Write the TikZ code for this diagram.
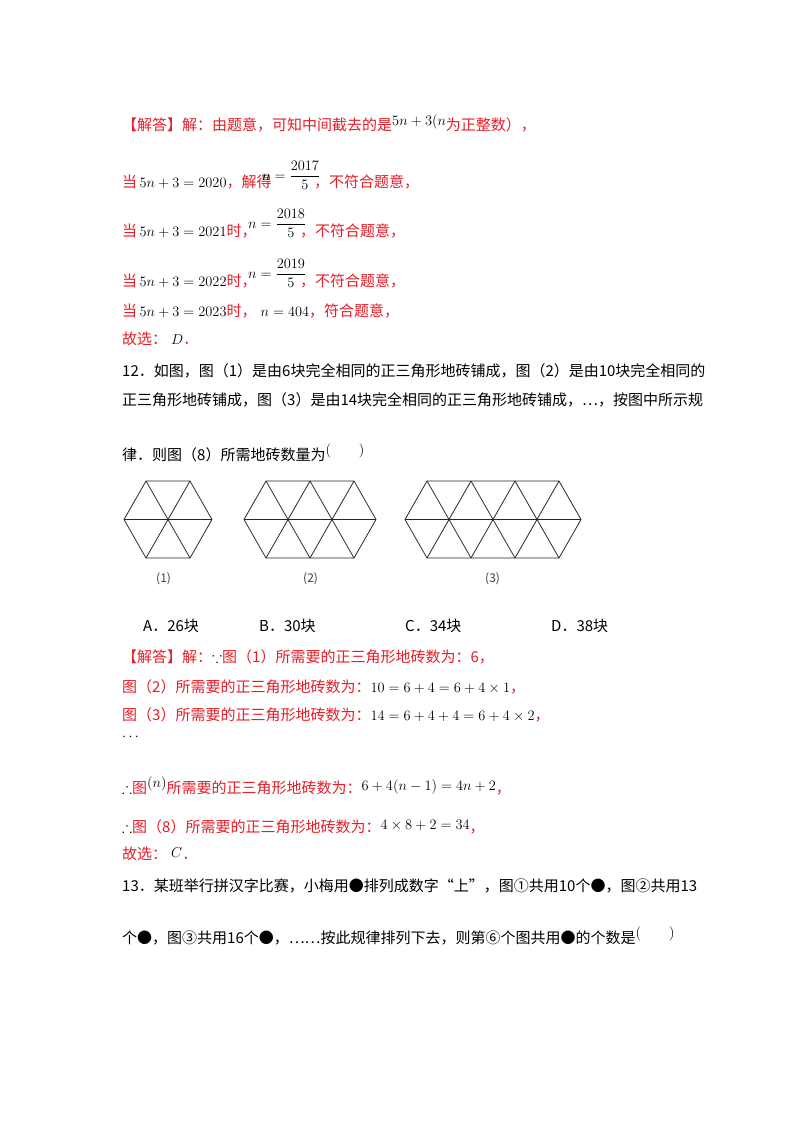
\documentclass[tikz,border=0pt]{standalone}
\usepackage{amsmath,amssymb}
\usepackage{fontspec}
\setmainfont{Noto Sans CJK SC}
\newcommand{\mth}[1]{{\color{black}$#1$}}
\definecolor{ansred}{RGB}{230,30,40}
\begin{document}
\begin{tikzpicture}[x=1pt,y=-1pt,
  txt/.style={anchor=base west,inner sep=0pt,font=\fontsize{15}{18}\selectfont},
  red/.style={txt,text=ansred},
  blk/.style={txt,text=black},
  tile/.style={line width=0.8pt,draw=black!85}]
\useasboundingbox[fill=white] (0,0) rectangle (800,1132);
% solution 11
\node[red] (a1) at (122,130) {【解答】解：由题意，可知中间截去的是\raisebox{5pt}{\mth{5n+3(n}}为正整数），};
\node[red] (a2) at (122,187) {当\mth{\,5n+3=2020}，解得};
\node[blk] (f1) at (262,180) {$n=\dfrac{2017}{5}$};
\node[red] (a2b) at (314,187) {，不符合题意，};
\node[red] (a3) at (122,236) {当\mth{\,5n+3=2021}时，};
\node[blk] (f2) at (248,228) {$n=\dfrac{2018}{5}$};
\node[red] (a3b) at (300,236) {，不符合题意，};
\node[red] (a4) at (122,286) {当\mth{\,5n+3=2022}时，};
\node[blk] (f3) at (248,278) {$n=\dfrac{2019}{5}$};
\node[red] (a4b) at (300,286) {，不符合题意，};
\node[red] (a5) at (122,316) {当\mth{\,5n+3=2023}时，\mth{\;n=404}，符合题意，};
\node[red] (a6) at (122,344) {故选：\mth{\;D}．};
% problem 12
\node[blk] (p1) at (122,376) {12．如图，图（1）是由6块完全相同的正三角形地砖铺成，图（2）是由10块完全相同的};
\node[blk] (p2) at (122,405) {正三角形地砖铺成，图（3）是由14块完全相同的正三角形地砖铺成，…，按图中所示规};
\node[blk] (p3) at (122,460) {律．则图（8）所需地砖数量为\raisebox{6pt}{$($\hspace{28pt}$)$}};
% figures
\foreach \xo/\k in {124/1,244/2,405/3}{
  \pgfmathsetmacro{\rt}{\xo+22+44*\k}
  \pgfmathsetmacro{\rr}{\xo+44*(\k+1)}
  \draw[tile] (\xo,519.5) -- (\xo+22,481) -- (\rt,481) -- (\rr,519.5) -- (\rt,558) -- (\xo+22,558) -- cycle;
  \draw[tile] (\xo,519.5) -- (\rr,519.5);
  \foreach \i in {1,...,\k}{
    \draw[tile] (\xo+22+44*\i-44,481) -- (\xo+22+44*\i,558);
    \draw[tile] (\xo+22+44*\i,481) -- (\xo+22+44*\i-44,558);
  }
}
\node[blk,font=\fontsize{12}{14}\selectfont,text=black!75] (l1) at (156,582) {(1)};
\node[blk,font=\fontsize{12}{14}\selectfont,text=black!75] (l2) at (303,582) {(2)};
\node[blk,font=\fontsize{12}{14}\selectfont,text=black!75] (l3) at (485,582) {(3)};
% options
\node[blk] (oA) at (143,631) {A．26块};
\node[blk] (oB) at (259,631) {B．30块};
\node[blk] (oC) at (405,631) {C．34块};
\node[blk] (oD) at (551,631) {D．38块};
% solution 12
\node[red] (s1) at (122,662) {【解答】解：\mth{\because}图（1）所需要的正三角形地砖数为：6，};
\node[red] (s2) at (122,692) {图（2）所需要的正三角形地砖数为：\mth{10=6+4=6+4\times1}，};
\node[red] (s3) at (122,720) {图（3）所需要的正三角形地砖数为：\mth{14=6+4+4=6+4\times2}，};
\node[blk] (s4) at (122,740) {$\cdots$};
\node[red] (s5) at (122,793) {\mth{\therefore}图\raisebox{6pt}{\mth{(n)}}所需要的正三角形地砖数为：\raisebox{3pt}{\mth{6+4(n-1)=4n+2}}，};
\node[red] (s6) at (122,832) {\mth{\therefore}图（8）所需要的正三角形地砖数为：\raisebox{3pt}{\mth{4\times8+2=34}}，};
\node[red] (s7) at (122,859) {故选：\raisebox{2pt}{\mth{\;C}}．};
% problem 13
\node[blk] (q1) at (122,891) {13．某班举行拼汉字比赛，小梅用●排列成数字“上”，图①共用10个●，图②共用13};
\node[blk] (q2) at (122,943) {个●，图③共用16个●，……按此规律排列下去，则第⑥个图共用●的个数是\raisebox{6pt}{$($\hspace{28pt}$)$}};
\end{tikzpicture}
\end{document}
